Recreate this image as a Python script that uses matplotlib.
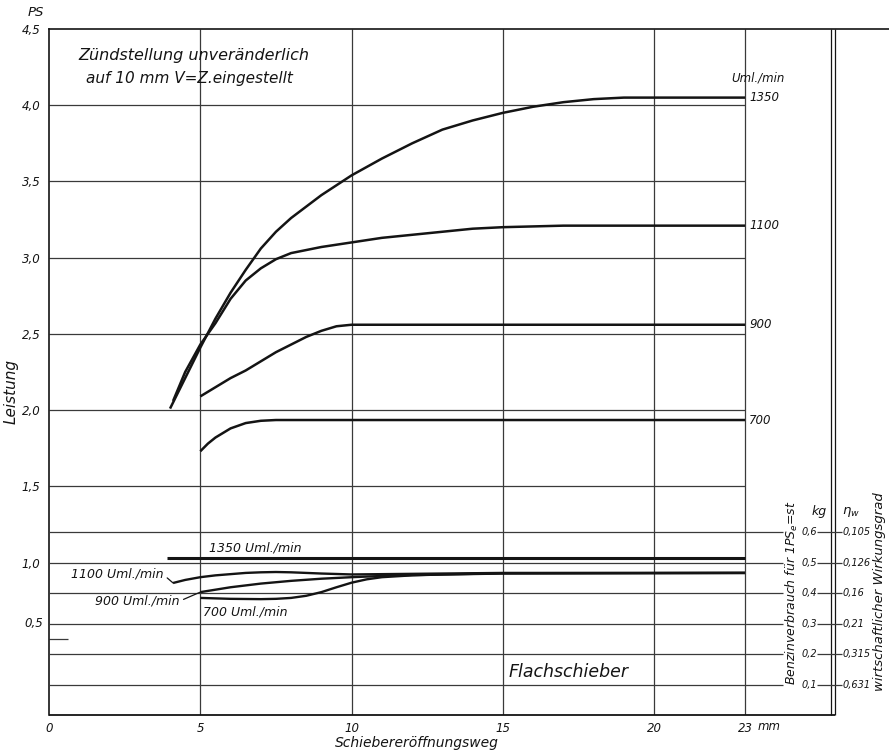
import matplotlib
matplotlib.use("Agg")
import matplotlib.pyplot as plt

plt.rcParams["font.family"] = ["DejaVu Sans"]
plt.rcParams["font.style"] = "italic"
plt.rcParams["mathtext.fontset"] = "dejavusans"

# ---- Leistung (PS) über Schieberöffnungsweg (mm) ----
mm_1350 = [4.0, 4.5, 5.0, 5.5, 6.0, 6.5, 7.0, 7.5, 8.0, 9.0, 10.0, 11.0, 12.0,
           13.0, 14.0, 15.0, 16.0, 17.0, 18.0, 19.0, 23.0]
ps_1350 = [2.01, 2.21, 2.41, 2.60, 2.77, 2.92, 3.06, 3.17, 3.26, 3.41, 3.54, 3.65,
           3.75, 3.84, 3.90, 3.95, 3.99, 4.02, 4.04, 4.05, 4.05]

mm_1100 = [4.1, 4.5, 5.0, 5.5, 6.0, 6.5, 7.0, 7.5, 8.0, 9.0, 10.0, 11.0, 12.0,
           13.0, 14.0, 15.0, 17.0, 23.0]
ps_1100 = [2.06, 2.25, 2.43, 2.57, 2.73, 2.85, 2.93, 2.99, 3.03, 3.07, 3.10, 3.13,
           3.15, 3.17, 3.19, 3.20, 3.21, 3.21]

mm_900 = [5.0, 5.5, 6.0, 6.5, 7.0, 7.5, 8.0, 8.5, 9.0, 9.5, 10.0, 11.0, 23.0]
ps_900 = [2.09, 2.15, 2.21, 2.26, 2.32, 2.38, 2.43, 2.48, 2.52, 2.55, 2.56, 2.56, 2.56]

mm_700 = [5.0, 5.25, 5.5, 5.75, 6.0, 6.5, 7.0, 7.5, 23.0]
ps_700 = [1.73, 1.78, 1.82, 1.85, 1.88, 1.915, 1.93, 1.935, 1.935]

# ---- Benzinverbrauch (kg je PSe-st) ----
mm_b1350 = [3.9, 23.0]
kg_b1350 = [0.515, 0.515]

mm_b1100 = [4.1, 4.5, 5.0, 5.5, 6.0, 6.5, 7.0, 7.5, 8.0, 9.0, 10.0, 12.0, 15.0, 23.0]
kg_b1100 = [0.433, 0.443, 0.452, 0.458, 0.462, 0.466, 0.468, 0.469, 0.468, 0.464,
            0.461, 0.463, 0.466, 0.466]

mm_b900 = [5.0, 6.0, 7.0, 8.0, 9.0, 10.0, 11.0, 12.0, 15.0, 23.0]
kg_b900 = [0.403, 0.419, 0.431, 0.440, 0.447, 0.452, 0.456, 0.459, 0.464, 0.466]

mm_b700 = [5.0, 6.0, 7.0, 7.5, 8.0, 8.5, 9.0, 9.5, 10.0, 10.5, 11.0, 12.0, 13.0,
           15.0, 23.0]
kg_b700 = [0.384, 0.381, 0.380, 0.381, 0.384, 0.391, 0.403, 0.419, 0.434, 0.445,
           0.452, 0.458, 0.461, 0.465, 0.466]

rpm_labels = ["1350", "1100", "900", "700"]

# ---- Skalen ----
x_ticks = [0, 5, 10, 15, 20, 23]
x_ticklabels = ["0", "5", "10", "15", "20", "23"]
ps_ticks = [1.0, 1.5, 2.0, 2.5, 3.0, 3.5, 4.0, 4.5]
ps_ticklabels = ["1,0", "1,5", "2,0", "2,5", "3,0", "3,5", "4,0", "4,5"]
ps_grid = [1.5, 2.0, 2.5, 3.0, 3.5, 4.0]
kg_ticks = [0.1, 0.2, 0.3, 0.4, 0.5, 0.6]
kg_ticklabels = ["0,1", "0,2", "0,3", "0,4", "0,5", "0,6"]
eta_ticklabels = ["0,631", "0,315", "0,21", "0,16", "0,126", "0,105"]

W, H = 889, 755
INK = "#141414"
GRID = "#3a3a3a"

fig = plt.figure(figsize=(W / 100, H / 100), dpi=100)
fig.patch.set_facecolor("white")


def fx(px):
    return px / W


def fy(py):
    return 1 - py / H


X0, X23, YTOP, YBOT = 49, 745, 29, 715
mm_per_px = 23 / (X23 - X0)
ax = fig.add_axes([fx(X0), fy(YBOT), fx(W) - fx(X0), fy(YTOP) - fy(YBOT)])
ax.set_xlim(0, (W - X0) * mm_per_px)
ax.set_ylim(0, 4.5)
ax.set_facecolor("none")

ax2 = ax.twinx()
ax2.set_ylim(0, 2.25)
ax2.set_axis_off()

for s in ("right", "bottom"):
    ax.spines[s].set_visible(False)
for s in ("left", "top"):
    ax.spines[s].set_linewidth(1.2)
    ax.spines[s].set_color(INK)

ax.set_xticks(x_ticks)
ax.set_xticklabels(x_ticklabels)
ax.set_yticks(ps_ticks)
ax.set_yticklabels(ps_ticklabels)
ax.tick_params(axis="both", length=0, labelsize=8.5, colors=INK)
ax.tick_params(axis="x", pad=5)
ax.tick_params(axis="y", pad=6)

# y-label 0,5 sits a little above its short mark
ax.annotate("0,5", xy=(0, 0.5), xytext=(-6, 15), textcoords="offset pixels",
            ha="right", va="center", fontsize=8.5, color=INK, annotation_clip=False)
ax.hlines(0.5, 0, 0.63, color=GRID, lw=0.9)

# ---- Netz ----
x_right_grid = (783 - X0) * mm_per_px
x_frame = (835 - X0) * mm_per_px
ax.vlines([5, 10, 15, 20, 23], 0, 4.5, color=GRID, lw=0.9)
ax.hlines(ps_grid, 0, 23, color=GRID, lw=0.9)
ax2.hlines(kg_ticks, 0, x_right_grid, color=GRID, lw=0.9)
ax.hlines(0, 0, x_frame, color=INK, lw=1.3, clip_on=False)
ax.vlines([(831 - X0) * mm_per_px, (834.5 - X0) * mm_per_px], 0, 4.5,
          color=INK, lw=0.9, clip_on=False)
ax2.hlines(kg_ticks, (817 - X0) * mm_per_px, (842 - X0) * mm_per_px,
           color=GRID, lw=0.9)

# ---- Kurven ----
power = [(mm_1350, ps_1350), (mm_1100, ps_1100), (mm_900, ps_900), (mm_700, ps_700)]
for (xs, ys), lab in zip(power, rpm_labels):
    ax.plot(xs, ys, color=INK, lw=1.8, solid_capstyle="butt", zorder=3)
    ax.annotate(lab, xy=(xs[-1], ys[-1]), xytext=(3, 0), textcoords="offset points",
                ha="left", va="center", fontsize=8.5, color=INK)

ax2.plot(mm_b1350, kg_b1350, color=INK, lw=2.2, solid_capstyle="butt", zorder=3)
ax2.plot(mm_b1100, kg_b1100, color=INK, lw=1.7, solid_capstyle="butt", zorder=3)
ax2.plot(mm_b900, kg_b900, color=INK, lw=1.7, solid_capstyle="butt", zorder=3)
ax2.plot(mm_b700, kg_b700, color=INK, lw=1.7, solid_capstyle="butt", zorder=3)

lab_kw = dict(fontsize=9, color=INK, textcoords="offset points")
ax2.annotate("1350 Uml./min", xy=(5.3, kg_b1350[0]), xytext=(0, 7.5),
             ha="left", va="center", **lab_kw)
ax2.annotate("1100 Uml./min", xy=(mm_b1100[0], kg_b1100[0]), xytext=(-7, 6.5),
             ha="right", va="center",
             arrowprops=dict(arrowstyle="-", color=INK, lw=0.9, relpos=(1.0, 0.45),
                             shrinkA=1, shrinkB=0), **lab_kw)
ax2.annotate("900 Uml./min", xy=(mm_b900[0], kg_b900[0]), xytext=(-15, -6.5),
             ha="right", va="center",
             arrowprops=dict(arrowstyle="-", color=INK, lw=0.9, relpos=(1.0, 0.5),
                             shrinkA=1, shrinkB=0), **lab_kw)
ax2.annotate("700 Uml./min", xy=(mm_b700[0], kg_b700[0]), xytext=(2, -10),
             ha="left", va="center", **lab_kw)

# ---- rechte Skalen ----
for v, t, e in zip(kg_ticks, kg_ticklabels, eta_ticklabels):
    ax2.text((817 - X0) * mm_per_px, v, t, ha="right", va="center",
             fontsize=7, color=INK)
    ax2.text((843 - X0) * mm_per_px, v, e, ha="left", va="center",
             fontsize=7, color=INK)

fig.text(fx(819), fy(512), "kg", ha="center", va="center", fontsize=9, color=INK)
fig.text(fx(851), fy(512), r"$\eta_{w}$", ha="center", va="center",
         fontsize=9.5, color=INK)
fig.text(fx(792), fy(593), r"Benzinverbrauch für 1PS$_{e}$=st", rotation=90,
         ha="center", va="center", fontsize=9, color=INK)
fig.text(fx(879), fy(592), "wirtschaftlicher Wirkungsgrad", rotation=90,
         ha="center", va="center", fontsize=9.5, color=INK)

# ---- Beschriftung ----
fig.text(fx(78), fy(60), "Zündstellung unveränderlich", ha="left",
         va="baseline", fontsize=11.5, color=INK)
fig.text(fx(86), fy(83), "auf 10 mm V=Z.eingestellt", ha="left",
         va="baseline", fontsize=11, color=INK)
fig.text(fx(36), fy(13), "PS", ha="center", va="center", fontsize=9.5, color=INK)
fig.text(fx(11), fy(392), "Leistung", rotation=90, ha="center", va="center",
         fontsize=11, color=INK)
fig.text(fx(758), fy(78), "Uml./min", ha="center", va="center", fontsize=8.5,
         color=INK)
fig.text(fx(758), fy(727), "mm", ha="left", va="center", fontsize=8.5, color=INK)
fig.text(fx(417), fy(743), "Schiebereröffnungsweg", ha="center", va="center",
         fontsize=10, color=INK)
fig.text(fx(569), fy(672), "Flachschieber", ha="center", va="center",
         fontsize=12.5, color=INK)

fig.savefig("out.png", dpi=100, facecolor="white")
